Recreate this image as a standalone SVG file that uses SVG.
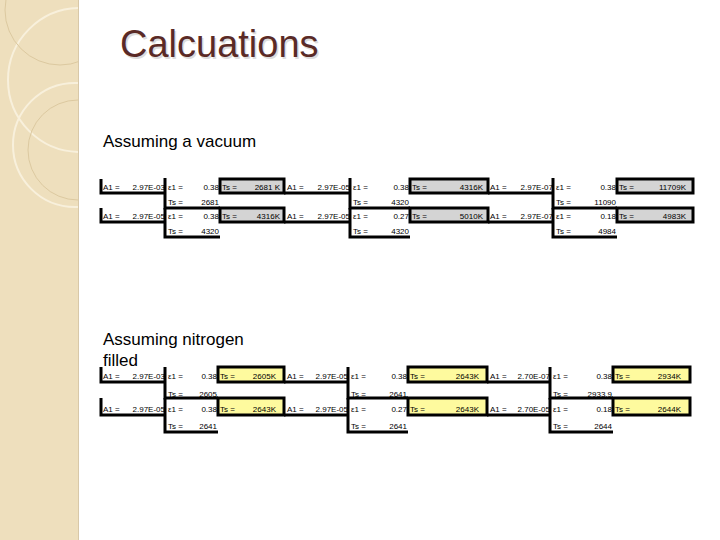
<svg xmlns="http://www.w3.org/2000/svg" width="720" height="540" viewBox="0 0 720 540">
<defs>
<clipPath id="lp"><rect x="0" y="0" width="78" height="540"/></clipPath>
<style>
.t{font-family:"Liberation Sans",Arial,sans-serif;font-size:8px;fill:#000}
.r{text-anchor:end}
.ln{fill:none;stroke:#000;stroke-width:3}
.g{fill:#d4d4d4;stroke:#000;stroke-width:3}
.y{fill:#fefa9e;stroke:#000;stroke-width:3}
.arc{fill:none;stroke:#f8f0dc;stroke-width:2}
.arc2{fill:none;stroke:#dcc9a0;stroke-width:1}
</style>
</defs>
<rect width="720" height="540" fill="#fff"/>
<g id="panel">
<rect x="0" y="0" width="78" height="540" fill="#eedfbd"/>
<g clip-path="url(#lp)">
<circle cx="80" cy="80" r="72" class="arc"/>
<circle cx="75" cy="145" r="62" class="arc"/>
<circle cx="78" cy="150" r="50" class="arc2"/>
<circle cx="60" cy="10" r="55" class="arc2"/>
</g>
<line x1="78.5" y1="0" x2="78.5" y2="540" stroke="#d8c8a8"/>
</g>
<text x="120" y="57" font-family="Liberation Sans,Arial,sans-serif" font-size="38" fill="#ddd" transform="translate(1.5,1.5)">Calcuations</text>
<text x="120" y="57" font-family="Liberation Sans,Arial,sans-serif" font-size="38" fill="#5a2a26">Calcuations</text>
<text x="103" y="147" font-family="Liberation Sans,Arial,sans-serif" font-size="17" fill="#000">Assuming a vacuum</text>
<text x="103" y="345" font-family="Liberation Sans,Arial,sans-serif" font-size="17" fill="#000">Assuming nitrogen</text>
<text x="103" y="366" font-family="Liberation Sans,Arial,sans-serif" font-size="17" fill="#000">filled</text>

<g id="connectors">
<path class="ln" d="M101,179V193H165M165,178V208H220M284,193H350M350,178V208H410M488,193H553M553,178V208H617"/>
<path class="ln" d="M101,208V222H165M165,208V237H220M284,222H350M350,208V237H410M488,222H553M553,208V237H617"/>
<path class="ln" d="M101,367V382H165M165,367V398H218M284,382H348M348,367V398H408M487,382H550M550,367V398H613"/>
<path class="ln" d="M101,398V415H165M165,398V432H218M284,415H348M348,398V432H408M487,415H550M550,398V432H613"/>
</g>
<g id="boxes">
<rect class="g" x="220" y="179" width="64" height="14"/>
<rect class="g" x="410" y="179" width="78" height="14"/>
<rect class="g" x="617" y="179" width="76" height="14"/>
<rect class="g" x="220" y="208" width="64" height="14"/>
<rect class="g" x="410" y="208" width="78" height="14"/>
<rect class="g" x="617" y="208" width="76" height="14"/>
<rect class="y" x="218" y="367" width="66" height="15"/>
<rect class="y" x="408" y="367" width="79" height="15"/>
<rect class="y" x="613" y="367" width="77" height="15"/>
<rect class="y" x="218" y="398" width="66" height="17"/>
<rect class="y" x="408" y="398" width="79" height="17"/>
<rect class="y" x="613" y="398" width="77" height="17"/>
</g>
<g id="top-table">
<text class="t" x="103" y="190">A1 =</text><text class="t r" x="165" y="190">2.97E-03</text>
<text class="t" x="168" y="190">ε1 =</text><text class="t r" x="219" y="190">0.38</text>
<text class="t" x="222" y="190">Ts =</text><text class="t r" x="280" y="190">2681 K</text>
<text class="t" x="168" y="205">Ts =</text><text class="t r" x="219" y="205">2681</text>
<text class="t" x="287" y="190">A1 =</text><text class="t r" x="350" y="190">2.97E-05</text>
<text class="t" x="353" y="190">ε1 =</text><text class="t r" x="409" y="190">0.38</text>
<text class="t" x="412" y="190">Ts =</text><text class="t r" x="483" y="190">4316K</text>
<text class="t" x="353" y="205">Ts =</text><text class="t r" x="409" y="205">4320</text>
<text class="t" x="490" y="190">A1 =</text><text class="t r" x="553" y="190">2.97E-07</text>
<text class="t" x="556" y="190">ε1 =</text><text class="t r" x="616" y="190">0.38</text>
<text class="t" x="619" y="190">Ts =</text><text class="t r" x="686" y="190">11709K</text>
<text class="t" x="556" y="205">Ts =</text><text class="t r" x="616" y="205">11090</text>

<text class="t" x="103" y="219">A1 =</text><text class="t r" x="165" y="219">2.97E-05</text>
<text class="t" x="168" y="219">ε1 =</text><text class="t r" x="219" y="219">0.38</text>
<text class="t" x="222" y="219">Ts =</text><text class="t r" x="280" y="219">4316K</text>
<text class="t" x="168" y="234">Ts =</text><text class="t r" x="219" y="234">4320</text>
<text class="t" x="287" y="219">A1 =</text><text class="t r" x="350" y="219">2.97E-05</text>
<text class="t" x="353" y="219">ε1 =</text><text class="t r" x="409" y="219">0.27</text>
<text class="t" x="412" y="219">Ts =</text><text class="t r" x="483" y="219">5010K</text>
<text class="t" x="353" y="234">Ts =</text><text class="t r" x="409" y="234">4320</text>
<text class="t" x="490" y="219">A1 =</text><text class="t r" x="553" y="219">2.97E-07</text>
<text class="t" x="556" y="219">ε1 =</text><text class="t r" x="616" y="219">0.18</text>
<text class="t" x="619" y="219">Ts =</text><text class="t r" x="686" y="219">4983K</text>
<text class="t" x="556" y="234">Ts =</text><text class="t r" x="616" y="234">4984</text>
</g>
<g id="bottom-table">
<text class="t" x="103" y="379">A1 =</text><text class="t r" x="165" y="379">2.97E-03</text>
<text class="t" x="168" y="379">ε1 =</text><text class="t r" x="217" y="379">0.38</text>
<text class="t" x="220" y="379">Ts =</text><text class="t r" x="276" y="379">2605K</text>
<text class="t" x="168" y="397">Ts =</text><text class="t r" x="217" y="397">2605</text>
<text class="t" x="287" y="379">A1 =</text><text class="t r" x="348" y="379">2.97E-05</text>
<text class="t" x="351" y="379">ε1 =</text><text class="t r" x="407" y="379">0.38</text>
<text class="t" x="410" y="379">Ts =</text><text class="t r" x="479" y="379">2643K</text>
<text class="t" x="351" y="397">Ts =</text><text class="t r" x="407" y="397">2641</text>
<text class="t" x="490" y="379">A1 =</text><text class="t r" x="550" y="379">2.70E-07</text>
<text class="t" x="553" y="379">ε1 =</text><text class="t r" x="612" y="379">0.38</text>
<text class="t" x="615" y="379">Ts =</text><text class="t r" x="681" y="379">2934K</text>
<text class="t" x="553" y="397">Ts =</text><text class="t r" x="612" y="397">2933.9</text>

<text class="t" x="103" y="412">A1 =</text><text class="t r" x="165" y="412">2.97E-05</text>
<text class="t" x="168" y="412">ε1 =</text><text class="t r" x="217" y="412">0.38</text>
<text class="t" x="220" y="412">Ts =</text><text class="t r" x="276" y="412">2643K</text>
<text class="t" x="168" y="429">Ts =</text><text class="t r" x="217" y="429">2641</text>
<text class="t" x="287" y="412">A1 =</text><text class="t r" x="348" y="412">2.97E-05</text>
<text class="t" x="351" y="412">ε1 =</text><text class="t r" x="407" y="412">0.27</text>
<text class="t" x="410" y="412">Ts =</text><text class="t r" x="479" y="412">2643K</text>
<text class="t" x="351" y="429">Ts =</text><text class="t r" x="407" y="429">2641</text>
<text class="t" x="490" y="412">A1 =</text><text class="t r" x="550" y="412">2.70E-05</text>
<text class="t" x="553" y="412">ε1 =</text><text class="t r" x="612" y="412">0.18</text>
<text class="t" x="615" y="412">Ts =</text><text class="t r" x="681" y="412">2644K</text>
<text class="t" x="553" y="429">Ts =</text><text class="t r" x="612" y="429">2644</text>
</g>
</svg>
